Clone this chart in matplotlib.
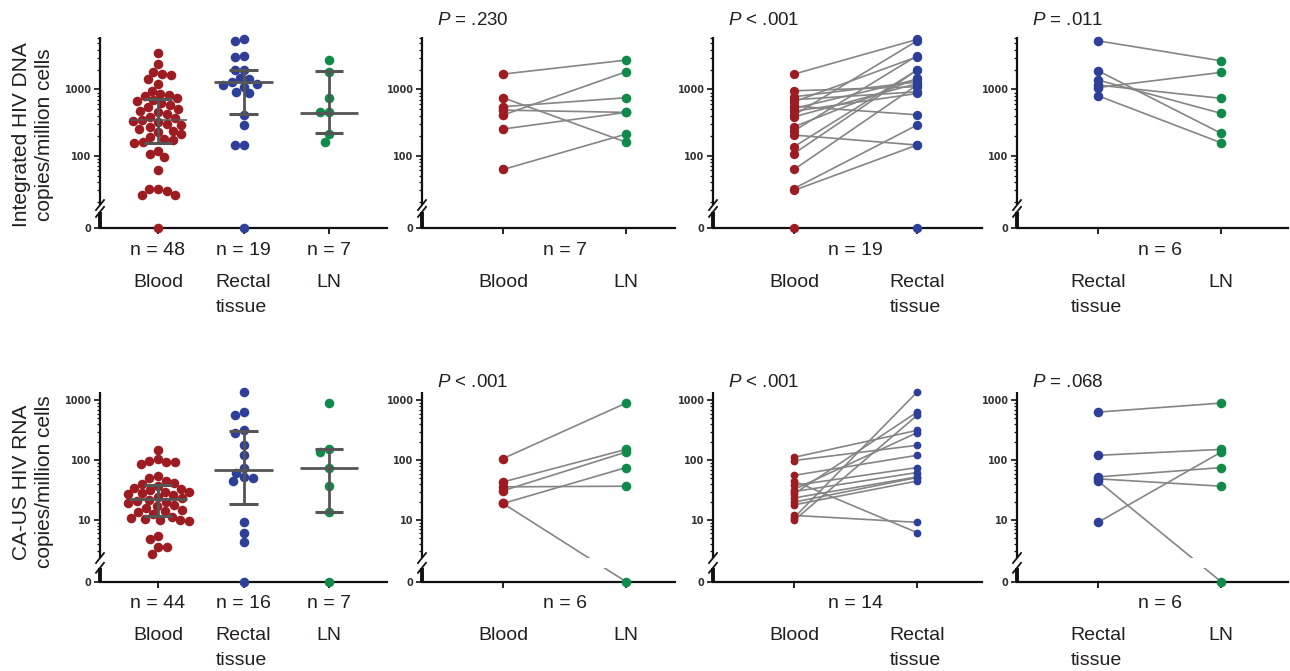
import numpy as np
import matplotlib
matplotlib.use('Agg')
import matplotlib.pyplot as plt
from matplotlib.ticker import FixedLocator, FuncFormatter
from matplotlib.font_manager import FontProperties

plt.rcParams['font.family'] = ['Liberation Sans', 'DejaVu Sans']
plt.rcParams['mathtext.fontset'] = 'custom'
plt.rcParams['mathtext.it'] = 'Liberation Sans:italic'
plt.rcParams['mathtext.rm'] = 'Liberation Sans'

# ---------------- data ----------------
groups3 = ['Blood', 'Rectal\ntissue', 'LN']

dna_blood = [3570, 2415, 1850, 1725, 1667, 1420, 1194, 955, 853, 822,
             790, 740, 700, 660, 620, 580, 540, 510, 480, 450, 420, 390, 370, 345,
             340, 320, 305, 290, 270, 255, 240, 225, 210, 195, 180, 170,
             159, 157, 118, 105, 95, 61, 31.5, 31.5, 29, 25.5, 25.5, 0]
dna_rectal = [5690, 5420, 3220, 3110, 1964, 1964, 1470, 1420, 1300, 1230, 1165,
              1100, 922, 870, 415, 290, 145, 145, 0]
dna_ln = [2775, 1850, 750, 451, 451, 212, 160]
dna_median = [342, 1280, 446]
dna_q1 = [154, 421, 218]
dna_q3 = [710, 1964, 1890]

rna_blood = [151, 104, 97, 92, 92, 88, 54, 50, 45, 42, 40, 37, 35, 33, 32, 30, 29,
             28, 27, 26, 24, 23, 22, 21, 20, 19, 18, 17, 16, 15, 14, 13.5, 12.5,
             11.5, 11, 10.5, 10, 10, 9.5, 5.4, 4.8, 3.5, 3.5, 2.7]
rna_rectal = [1375, 638, 562, 316, 289, 178, 121, 75.5, 62.4, 52.7, 51.5, 45,
              9.2, 6.2, 4.35, 0]
rna_ln = [902, 152, 137, 75.5, 36.9, 13.7, 0]
rna_median = [22.4, 70, 75]
rna_q1 = [11.8, 18.3, 13.8]
rna_q3 = [39, 304, 157]

# paired panels (first list = left category, second = right category)
dna_bl_ln_blood = [1707, 750, 550, 488, 411, 253, 62]
dna_bl_ln_ln = [2775, 160, 750, 451, 1850, 451, 212]
dna_bl_re_blood = [1707, 955, 776, 700, 653, 560, 518, 470, 411, 387, 274, 238,
                   205, 137, 108, 62, 32, 30, 0]
dna_bl_re_rectal = [5690, 1100, 1300, 922, 3110, 415, 1420, 870, 5420, 1230, 1470,
                    3220, 145, 1964, 1964, 1165, 290, 145, 0]
dna_re_ln_rectal = [5420, 1915, 1387, 1165, 1070, 803]
dna_re_ln_ln = [2710, 218, 436, 735, 1810, 157]

rna_bl_ln_blood = [107, 43.5, 31, 36, 19, 19]
rna_bl_ln_ln = [902, 152, 137, 36.9, 75.5, 0]
rna_bl_re_blood = [112, 99, 56, 45, 38, 32.5, 30, 27.5, 23.5, 20, 18, 12, 11, 9.9]
rna_bl_re_rectal = [316, 178, 121, 6.2, 75.5, 289, 62.4, 638, 52.7, 51.5, 45, 9.2,
                    1375, 562]
rna_re_ln_rectal = [638, 121, 52.7, 49, 45, 9.2]
rna_re_ln_ln = [902, 152, 75.5, 36.9, 0, 137]

p_top = ['$P$ = .230', '$P$ < .001', '$P$ = .011']
p_bot = ['$P$ < .001', '$P$ < .001', '$P$ = .068']
n_top = ['n = 48', 'n = 19', 'n = 7', 'n = 7', 'n = 19', 'n = 6']
n_bot = ['n = 44', 'n = 16', 'n = 7', 'n = 6', 'n = 14', 'n = 6']

# ---------------- style ----------------
RED = '#9c1c22'
BLUE = '#2e3f9a'
GREEN = '#108a49'
LINE = '#858585'
BAR = '#555555'
TXT = '#231f20'

W, H = 1290, 671
fig = plt.figure(figsize=(W / 100, H / 100), dpi=100)

rows = {
    'top': dict(z0=0.905, ytop=6200, gap_lo=14.2, gap_hi=18.0,
                major=[0, 100, 1000],
                minor=[20, 30, 40, 50, 60, 70, 80, 90, 200, 300, 400, 500, 600,
                       700, 800, 900, 2000, 3000, 4000, 5000, 6000],
                bottom=0.6598, height=0.2851, ptxt=12),
    'bot': dict(z0=-0.028, ytop=1400, gap_lo=1.6, gap_hi=2.33,
                major=[0, 10, 100, 1000],
                minor=[3, 4, 5, 6, 7, 8, 9, 20, 30, 40, 50, 60, 70, 80, 90,
                       200, 300, 400, 500, 600, 700, 800, 900],
                bottom=0.1331, height=0.2832, ptxt=5),
}
cols = [dict(l=100, r=387, xlim=(-0.678, 2.678)),
        dict(l=422, r=675, xlim=(-0.659, 1.398)),
        dict(l=713, r=982, xlim=(-0.659, 1.528)),
        dict(l=1017, r=1288, xlim=(-0.659, 1.544))]


def make_scale(z0):
    def fwd(v):
        v = np.asarray(v, dtype=float)
        safe = np.where(v > 0, v, 1.0)
        return np.where(v > 0, np.log10(safe), z0)

    def inv(p):
        p = np.asarray(p, dtype=float)
        return np.where(p > z0 + 1e-9, 10.0 ** p, 0.0)
    return fwd, inv


tickfont = FontProperties(family='DejaVu Sans', weight='bold', size=7)


def setup(ax, row, col, ncat):
    fwd, inv = make_scale(row['z0'])
    ax.set_yscale('function', functions=(fwd, inv))
    ax.set_ylim(0, row['ytop'])
    ax.set_xlim(*col['xlim'])
    for s in ['top', 'right', 'left']:
        ax.spines[s].set_visible(False)
    ax.spines['bottom'].set_linewidth(1.6)
    ax.spines['bottom'].set_color('#111111')
    ax.set_xticks(range(ncat))
    ax.tick_params(axis='x', length=4, width=1.3, labelbottom=False,
                   color='#111111')
    ax.yaxis.set_major_locator(FixedLocator(row['major']))
    ax.yaxis.set_minor_locator(FixedLocator(row['minor']))
    ax.yaxis.set_major_formatter(FuncFormatter(lambda v, p: '%g' % v))
    ax.yaxis.set_minor_formatter(FuncFormatter(lambda v, p: ''))
    ax.tick_params(axis='y', which='major', length=4, width=1.2, pad=2,
                   color='#111111', labelcolor='#333333')
    ax.tick_params(axis='y', which='minor', length=2.3, width=0.9,
                   color='#111111')
    for t in ax.get_yticklabels():
        t.set_fontproperties(tickfont)
    yt = ax.get_yaxis_transform()
    # broken y axis
    ax.plot([0, 0], [row['gap_hi'], row['ytop']], transform=yt, color='#111111',
            lw=1.6, clip_on=False, solid_capstyle='butt', zorder=5)
    ax.plot([0, 0], [0, row['gap_lo']], transform=yt, color='#111111',
            lw=2.8, clip_on=False, solid_capstyle='butt', zorder=5)
    # break band hides lines crossing the gap
    ax.axhspan(row['gap_lo'], row['gap_hi'], color='white', lw=0, zorder=2.5)
    # slashes
    axw = (col['r'] - col['l'])
    axh = row['height'] * H
    f0 = fwd(0)
    ftop = fwd(row['ytop'])
    for v in (row['gap_hi'], row['gap_lo']):
        yb = (fwd(v) - f0) / (ftop - f0)
        dx, dy = 4.0 / axw, 5.0 / axh
        ax.plot([-dx, dx], [yb - dy, yb + dy], transform=ax.transAxes,
                color='#111111', lw=1.3, clip_on=False, zorder=5)


def swarm_x(ax, values, center, d_px):
    vals = np.asarray(values, dtype=float)
    pts = ax.transData.transform(np.column_stack([np.full(len(vals), center), vals]))
    ys = pts[:, 1]
    ppu = ax.transData.transform([[1, 0]])[0, 0] - ax.transData.transform([[0, 0]])[0, 0]
    order = np.argsort(-ys)
    placed = []
    offs = np.zeros(len(vals))
    for i in order:
        y = ys[i]
        cands = [0.0]
        for (px, py) in placed:
            dy = abs(py - y)
            if dy < d_px:
                dx = np.sqrt(d_px ** 2 - dy ** 2)
                cands += [px + dx, px - dx]
        cands = sorted(cands, key=lambda c: (abs(c), c))
        for c in cands:
            ok = all((c - px) ** 2 + (y - py) ** 2 >= d_px ** 2 - 1e-6 for (px, py) in placed)
            if ok:
                break
        placed.append((c, y))
        offs[i] = c
    return center + offs / ppu


def annotate_below(ax, x, text, pts):
    # pts = distance (points) from the x axis to the baseline of the first line
    nextra = text.count('\n')
    ax.annotate(text, xy=(x, 0), xycoords=ax.get_xaxis_transform(),
                xytext=(0, -pts - nextra * 18.0), textcoords='offset points',
                ha='center', va='baseline', fontsize=14, color=TXT,
                annotation_clip=False, multialignment='left', linespacing=1.63)


def scatter_panel(ax, row, col, data, med, q1, q3, colors, nlabels, blood_thin):
    setup(ax, row, col, 3)
    for i, (vals, c) in enumerate(zip(data, colors)):
        xs = swarm_x(ax, vals, i, 9.0)
        ax.plot(xs, vals, 'o', ms=6.9, mfc=c, mec='none', clip_on=False, zorder=3)
        ax.plot([i, i], [q1[i], q3[i]], color=BAR, lw=2.0, zorder=4,
                solid_capstyle='butt')
        for q in (q1[i], q3[i]):
            ax.plot([i - 0.165, i + 0.165], [q, q], color=BAR, lw=2.2, zorder=4,
                    solid_capstyle='butt')
        lw = 1.1 if (i == 0 and blood_thin) else 2.0
        ax.plot([i - 0.34, i + 0.34], [med[i], med[i]], color=BAR, lw=lw, zorder=4,
                solid_capstyle='butt')
        annotate_below(ax, i, nlabels[i], 19)
        annotate_below(ax, i, groups3[i], 42.3)


def paired_panel(ax, row, col, left, right, cl, cr, labels, nlabel, ptxt, ms):
    setup(ax, row, col, 2)
    for a, b in zip(left, right):
        ax.plot([0, 1], [a, b], color=LINE, lw=1.2, zorder=2, clip_on=False)
    ax.plot(np.zeros(len(left)), left, 'o', ms=ms, mfc=cl, mec='none',
            clip_on=False, zorder=3)
    ax.plot(np.ones(len(right)), right, 'o', ms=ms, mfc=cr, mec='none',
            clip_on=False, zorder=3)
    annotate_below(ax, 0.5, nlabel, 19)
    annotate_below(ax, 0, labels[0], 42.3)
    annotate_below(ax, 1, labels[1], 42.3)
    ax.annotate(ptxt, xy=(0, 1), xycoords='axes fraction',
                xytext=(15 * 0.72, row['ptxt'] * 0.72), textcoords='offset points',
                ha='left', va='baseline', fontsize=13.5, color=TXT,
                annotation_clip=False)


def make_ax(row, col):
    return fig.add_axes([col['l'] / W, row['bottom'], (col['r'] - col['l']) / W,
                         row['height']])


for key, data, med, q1, q3, nl, pl, pairs, ms3 in [
    ('top', [dna_blood, dna_rectal, dna_ln], dna_median, dna_q1, dna_q3, n_top, p_top,
     [(dna_bl_ln_blood, dna_bl_ln_ln), (dna_bl_re_blood, dna_bl_re_rectal),
      (dna_re_ln_rectal, dna_re_ln_ln)], 6.7),
    ('bot', [rna_blood, rna_rectal, rna_ln], rna_median, rna_q1, rna_q3, n_bot, p_bot,
     [(rna_bl_ln_blood, rna_bl_ln_ln), (rna_bl_re_blood, rna_bl_re_rectal),
      (rna_re_ln_rectal, rna_re_ln_ln)], 5.6)]:
    row = rows[key]
    ax = make_ax(row, cols[0])
    scatter_panel(ax, row, cols[0], data, med, q1, q3, [RED, BLUE, GREEN], nl,
                  key == 'top')
    specs = [(['Blood', 'LN'], RED, GREEN), (['Blood', 'Rectal\ntissue'], RED, BLUE),
             (['Rectal\ntissue', 'LN'], BLUE, GREEN)]
    for k in range(3):
        ax = make_ax(row, cols[k + 1])
        labs, cl, cr = specs[k]
        ms = ms3 if k == 1 else 6.9
        paired_panel(ax, row, cols[k + 1], pairs[k][0], pairs[k][1], cl, cr, labs,
                     nl[3 + k], pl[k], ms)

fig.text(33 / W, 1 - 135 / H, 'Integrated HIV DNA\ncopies/million cells',
         rotation=90, ha='center', va='center', fontsize=15, color=TXT,
         linespacing=1.25)
fig.text(33 / W, 1 - 482 / H, 'CA-US HIV RNA\ncopies/million cells',
         rotation=90, ha='center', va='center', fontsize=15, color=TXT,
         linespacing=1.25)

fig.savefig('out.png', dpi=100)
